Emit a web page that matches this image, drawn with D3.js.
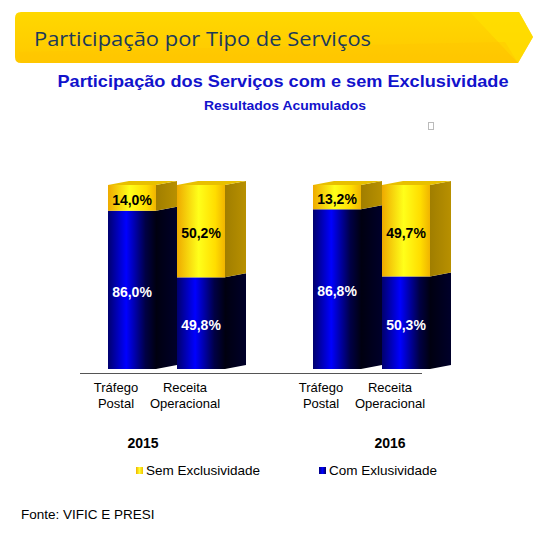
<!DOCTYPE html>
<html><head><meta charset="utf-8">
<script src="https://cdn.jsdelivr.net/npm/d3@7"></script>
<style>body{margin:0;background:#fff}svg{display:block}</style>
</head><body>
<script>
// ---- data ----
const years = ["2015", "2016"];
const categories = ["Tráfego Postal", "Receita Operacional"];
const categoryLines = [["Tráfego", "Postal"], ["Receita", "Operacional"]];
const series = ["Com Exlusividade", "Sem Exclusividade"];
const comExclusividade = [[86.0, 49.8], [86.8, 50.3]];
const semExclusividade = [[14.0, 50.2], [13.2, 49.7]];
const valueLabels = {com: [["86,0%", "49,8%"], ["86,8%", "50,3%"]], sem: [["14,0%", "50,2%"], ["13,2%", "49,7%"]]};

const W = 547, H = 544;
const svg = d3.select("body").append("svg").attr("width", W).attr("height", H);
const defs = svg.append("defs");

function hGrad(id, stops) {
  const g = defs.append("linearGradient").attr("id", id).attr("x1", "0").attr("x2", "1").attr("y1", "0").attr("y2", "0");
  stops.forEach(s => g.append("stop").attr("offset", s[0]).attr("stop-color", s[1]));
}
function vGrad(id, stops) {
  const g = defs.append("linearGradient").attr("id", id).attr("x1", "0").attr("x2", "0").attr("y1", "0").attr("y2", "1");
  stops.forEach(s => g.append("stop").attr("offset", s[0]).attr("stop-color", s[1]));
}
hGrad("blueFront", [["0%", "#00006e"], ["38%", "#0000ff"], ["78%", "#000045"], ["100%", "#000012"]]);
hGrad("yelFront", [["0%", "#eeaa00"], ["45%", "#ffff1a"], ["80%", "#ffdd00"], ["100%", "#f0b400"]]);
hGrad("blueSide", [["0%", "#000010"], ["100%", "#00002a"]]);
hGrad("yelSide", [["0%", "#a07e00"], ["100%", "#b89000"]]);
vGrad("banner", [["0%", "#ffd800"], ["100%", "#ffc800"]]);
hGrad("legYel", [["0%", "#f0b000"], ["50%", "#ffff30"], ["100%", "#f0c000"]]);
hGrad("legBlue", [["0%", "#000080"], ["50%", "#0000ff"], ["100%", "#000060"]]);

// ---- banner ----
const bx = 15, by = 12, bh = 51, r = 6;
svg.append("path")
  .attr("d", `M${bx + r},${by} L519,${by} L533,${by + 25} L518,${by + bh} L${bx + r},${by + bh} Q${bx},${by + bh} ${bx},${by + bh - r} L${bx},${by + r} Q${bx},${by} ${bx + r},${by} Z`)
  .attr("fill", "url(#banner)");
svg.append("path").attr("d", `M470,${by} L519,${by} L533,${by + 25} L518,${by + bh} Z`).attr("fill", "#ffe000").attr("opacity", 0.7);
svg.append("path").attr("d", `M${bx + 4},${by + 40} L505,${by + 30} L518,${by + bh} L${bx + r},${by + bh} Z`).attr("fill", "#ffc400").attr("opacity", 0.35);
svg.append("text").attr("x", 34).attr("y", 46)
  .attr("font-family", "'Open Sans', sans-serif").attr("font-size", 20).attr("fill", "#1c3a5a")
  .attr("textLength", 337).attr("lengthAdjust", "spacingAndGlyphs")
  .text("Participação por Tipo de Serviços");

// ---- titles ----
svg.append("text").attr("x", 283).attr("y", 87).attr("text-anchor", "middle")
  .attr("font-family", "'Liberation Sans', Arial, sans-serif").attr("font-weight", "bold").attr("font-size", 17)
  .attr("fill", "#1212cc").attr("textLength", 451).attr("lengthAdjust", "spacingAndGlyphs")
  .text("Participação dos Serviços com e sem Exclusividade");
svg.append("text").attr("x", 285).attr("y", 110).attr("text-anchor", "middle")
  .attr("font-family", "'Liberation Sans', Arial, sans-serif").attr("font-weight", "bold").attr("font-size", 13)
  .attr("fill", "#1212cc").attr("textLength", 162).attr("lengthAdjust", "spacingAndGlyphs")
  .text("Resultados Acumulados");
svg.append("rect").attr("x", 428.5).attr("y", 122.5).attr("width", 5).attr("height", 7)
  .attr("fill", "none").attr("stroke", "#bbb").attr("stroke-width", 1);

// ---- scales ----
const x0 = d3.scaleBand().domain(years).range([108, 518]);
const x1 = d3.scalePoint().domain(categories).range([0, 69]);
const y = d3.scaleLinear().domain([0, 100]).range([369, 185]);
const bw = 48, dx = 21, dy = -4;

// axis line
svg.append("line").attr("x1", 80).attr("x2", 422).attr("y1", 373.5).attr("y2", 373.5)
  .attr("stroke", "#555").attr("stroke-width", 1);

const font = "'Liberation Sans', Arial, sans-serif";
years.forEach((yr, yi) => {
  categories.forEach((cat, ci) => {
    const x = x0(yr) + x1(cat);
    const com = comExclusividade[yi][ci], sem = semExclusividade[yi][ci];
    const segs = [
      {y0: 0, y1: com, front: "url(#blueFront)", side: "url(#blueSide)", label: valueLabels.com[yi][ci], color: "#fff"},
      {y0: com, y1: com + sem, front: "url(#yelFront)", side: "url(#yelSide)", label: valueLabels.sem[yi][ci], color: "#000"}
    ];
    const g = svg.append("g");
    segs.forEach(s => {
      const yb = y(s.y0), yt = y(s.y1);
      g.append("rect").attr("x", x).attr("y", yt).attr("width", bw).attr("height", yb - yt).attr("fill", s.front);
      g.append("path").attr("d", `M${x + bw},${yt} L${x + bw + dx},${yt + dy} L${x + bw + dx},${yb + dy} L${x + bw},${yb} Z`).attr("fill", s.side);
    });
    const top = y(com + sem);
    g.append("path").attr("d", `M${x},${top} L${x + dx},${top + dy} L${x + bw + dx},${top + dy} L${x + bw},${top} Z`).attr("fill", "#e8c000");
    segs.forEach(s => {
      const mid = (y(s.y0) + y(s.y1)) / 2;
      g.append("text").attr("x", x + bw / 2).attr("y", mid + 7).attr("text-anchor", "middle")
        .attr("font-family", font).attr("font-weight", "bold").attr("font-size", 14).attr("fill", s.color)
        .text(s.label);
    });
    // category labels
    categoryLines[ci].forEach((ln, li) => {
      svg.append("text").attr("x", x + bw / 2 - 16).attr("y", 392 + li * 15.5).attr("text-anchor", "middle")
        .attr("font-family", font).attr("font-size", 13).attr("fill", "#000").text(ln);
    });
  });
});

// year labels
const yearX = {"2015": 143, "2016": 390};
years.forEach(yr => {
  svg.append("text").attr("x", yearX[yr]).attr("y", 448).attr("text-anchor", "middle")
    .attr("font-family", font).attr("font-weight", "bold").attr("font-size", 14).attr("fill", "#000").text(yr);
});

// legend
const legend = [
  {name: series[1], fill: "url(#legYel)", x: 136},
  {name: series[0], fill: "url(#legBlue)", x: 319}
];
legend.forEach(l => {
  svg.append("rect").attr("x", l.x).attr("y", 467).attr("width", 7).attr("height", 7).attr("fill", l.fill);
  svg.append("text").attr("x", l.x + 10).attr("y", 475).attr("font-family", font).attr("font-size", 13.5)
    .attr("fill", "#000").text(l.name);
});

// source
svg.append("text").attr("x", 21).attr("y", 519).attr("font-family", font).attr("font-size", 13.5)
  .attr("fill", "#000").text("Fonte: VIFIC E PRESI");
</script>
</body></html>
